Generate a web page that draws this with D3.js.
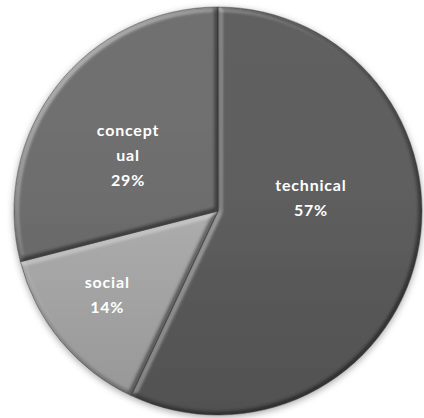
<!DOCTYPE html>
<html>
<head>
<meta charset="utf-8">
<script src="https://cdn.jsdelivr.net/npm/d3@7"></script>
<style>
  html, body { margin: 0; padding: 0; background: #fff; }
  svg { display: block; }
  .lbl { font-family: Lato, "Open Sans", sans-serif; font-weight: 700; font-size: 16px; fill: #fff; letter-spacing: 0.8px; }
</style>
</head>
<body>
<svg id="chart" width="424" height="418"></svg>
<script>
// Skill categories and their shares (percent)
const categories = ["technical", "social", "conceptual"];
const shares = [57, 14, 29];
// Label text lines for each slice (long word wrapped)
const labelLines = [["technical"], ["social"], ["concept", "ual"]];
const sliceColors = ["#606060", "#b2b2b2", "#707070"];
// Label anchor in polar form: angle (deg, clockwise from top) and radius fraction
const labelAngles = [82, 233, 302];
const labelRadii = [0.46, 0.68, 0.52];

const W = 424, H = 418;
const cx = 218, cy = 211, R = 204;

const svg = d3.select("#chart");
const defs = svg.append("defs");

// Soft round bevel: lighting on the blurred alpha, split into a white
// highlight layer and a black shade layer laid over the slice colour
const E = 45, flat = Math.sin(E * Math.PI / 180);
const Kh = 1.4, Ks = 0.55;
const bevel = defs.append("filter").attr("id", "bevel")
  .attr("color-interpolation-filters", "sRGB")
  .attr("x", "-5%").attr("y", "-5%").attr("width", "110%").attr("height", "110%");
bevel.append("feGaussianBlur").attr("in", "SourceAlpha").attr("stdDeviation", 2.6).attr("result", "blur");
bevel.append("feDiffuseLighting").attr("in", "blur").attr("surfaceScale", 5)
  .attr("diffuseConstant", 1).attr("lighting-color", "#fff").attr("result", "diff")
  .append("feDistantLight").attr("azimuth", 225).attr("elevation", E);
bevel.append("feColorMatrix").attr("in", "diff").attr("type", "matrix")
  .attr("values", `0 0 0 0 1  0 0 0 0 1  0 0 0 0 1  ${Kh} 0 0 0 ${-Kh * flat}`)
  .attr("result", "hl");
bevel.append("feColorMatrix").attr("in", "diff").attr("type", "matrix")
  .attr("values", `0 0 0 0 0  0 0 0 0 0  0 0 0 0 0  ${-Ks} 0 0 0 ${Ks * flat}`)
  .attr("result", "sh");
bevel.append("feComposite").attr("in", "hl").attr("in2", "SourceGraphic").attr("operator", "over").attr("result", "a");
bevel.append("feComposite").attr("in", "sh").attr("in2", "a").attr("operator", "over").attr("result", "b");
bevel.append("feComposite").attr("in", "b").attr("in2", "SourceAlpha").attr("operator", "in");

// Soft outer shadow for the whole pie
const shadow = defs.append("filter").attr("id", "shadow")
  .attr("x", "-10%").attr("y", "-10%").attr("width", "120%").attr("height", "120%");
shadow.append("feDropShadow").attr("dx", 0).attr("dy", 2).attr("stdDeviation", 3.5)
  .attr("flood-color", "#000").attr("flood-opacity", 0.35);

// Gentle top-to-bottom darkening across the whole disc
const shade = defs.append("linearGradient").attr("id", "shade")
  .attr("x1", 0).attr("y1", 0).attr("x2", 0).attr("y2", 1);
shade.append("stop").attr("offset", "0%").attr("stop-color", "#000").attr("stop-opacity", 0);
shade.append("stop").attr("offset", "45%").attr("stop-color", "#000").attr("stop-opacity", 0.02);
shade.append("stop").attr("offset", "100%").attr("stop-color", "#000").attr("stop-opacity", 0.16);

const pie = d3.pie().sort(null).value(d => d)
  .startAngle(0).endAngle(2 * Math.PI);
const arcs = pie(shares);
const arc = d3.arc().innerRadius(0).outerRadius(R);

const g = svg.append("g").attr("transform", `translate(${cx},${cy})`);
const pieG = g.append("g").attr("filter", "url(#shadow)");

pieG.selectAll("path.slice")
  .data(arcs)
  .join("path")
  .attr("class", "slice")
  .attr("d", arc)
  .attr("fill", (d, i) => sliceColors[i])
  .attr("filter", "url(#bevel)");

pieG.append("circle")
  .attr("r", R)
  .attr("fill", "url(#shade)");

// Thin dark seams between slices and round the rim
pieG.selectAll("path.seam")
  .data(arcs)
  .join("path")
  .attr("class", "seam")
  .attr("d", arc)
  .attr("fill", "none")
  .attr("stroke", "#333")
  .attr("stroke-opacity", 0.55)
  .attr("stroke-width", 0.9);

// Labels: name lines followed by the percentage
const lineH = 25;
const lblG = g.selectAll("g.lbl")
  .data(arcs)
  .join("g")
  .attr("transform", (d, i) => {
    const a = labelAngles[i] * Math.PI / 180;
    const r = labelRadii[i] * R;
    return `translate(${r * Math.sin(a)},${-r * Math.cos(a)})`;
  });

lblG.each(function(d, i) {
  const lines = labelLines[i].concat([d3.format(".0f")(d.value) + "%"]);
  const n = lines.length;
  const t = d3.select(this).append("text").attr("class", "lbl").attr("text-anchor", "middle");
  lines.forEach((s, k) => {
    t.append("tspan").attr("x", 0)
      .attr("y", (k - (n - 1) / 2) * lineH + 6)
      .text(s);
  });
});
</script>
</body>
</html>
